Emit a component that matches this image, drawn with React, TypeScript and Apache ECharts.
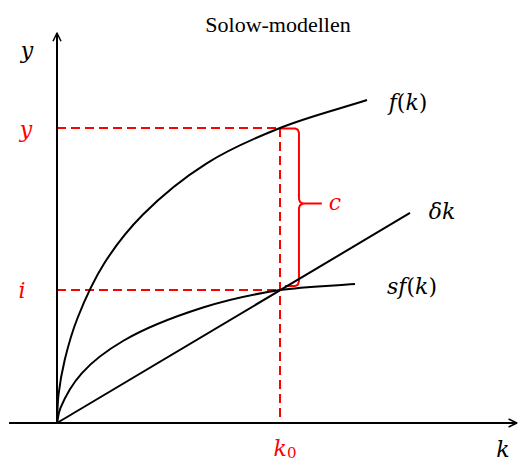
import React, { useEffect, useRef } from "react";
import * as echarts from "echarts";

// capital per worker k (k0 = 10) and output units
const K0 = 10;
const Y_STAR = 13.23; // f(k0)
const I_STAR = 5.96; // s f(k0)

const fData: number[][] = [
  [0, 0], [0.067, 1.256], [0.345, 2.825], [0.922, 4.709], [2.121, 7.161],
  [3.857, 9.35], [6.713, 11.646], [10, 13.23], [13.901, 14.484],
];
const sfData: number[][] = [
  [0, 0], [0.157, 0.673], [1.108, 2.229], [2.996, 3.7], [6.547, 5.179],
  [10, 5.96], [13.363, 6.233],
];
const deltaKData: number[][] = [[0, 0], [15.83, 9.42]];

const X_AXIS_LINE: number[][] = [[-2.15, 0], [20.62, 0]];
const Y_AXIS_LINE: number[][] = [[0, 0], [0, 17.49]];

const TITLE = "Solow-modellen";

// centripetal Catmull-Rom through pixel points -> SVG path data
function smoothPath(pts: number[][]): string {
  const n = pts.length;
  const P = (i: number): number[] => {
    if (i < 0) return [2 * pts[0][0] - pts[1][0], 2 * pts[0][1] - pts[1][1]];
    if (i >= n) return [2 * pts[n - 1][0] - pts[n - 2][0], 2 * pts[n - 1][1] - pts[n - 2][1]];
    return pts[i];
  };
  const dist = (a: number[], b: number[]) => Math.max(1e-6, Math.hypot(a[0] - b[0], a[1] - b[1]));
  let d = `M${pts[0][0]},${pts[0][1]}`;
  for (let i = 0; i < n - 1; i++) {
    const p0 = P(i - 1), p1 = P(i), p2 = P(i + 1), p3 = P(i + 2);
    const d1 = dist(p0, p1), d2 = dist(p1, p2), d3 = dist(p2, p3);
    const a1 = Math.sqrt(d1), a2 = Math.sqrt(d2), a3 = Math.sqrt(d3);
    const b1: number[] = [0, 1].map((k) =>
      (d1 * p2[k] - d2 * p0[k] + (2 * d1 + 3 * a1 * a2 + d2) * p1[k]) / (3 * a1 * (a1 + a2)));
    const b2: number[] = [0, 1].map((k) =>
      (d3 * p1[k] - d2 * p3[k] + (2 * d3 + 3 * a3 * a2 + d2) * p2[k]) / (3 * a3 * (a3 + a2)));
    d += ` C${b1[0]},${b1[1]} ${b2[0]},${b2[1]} ${p2[0]},${p2[1]}`;
  }
  return d;
}

export default function App() {
  const ref = useRef<HTMLDivElement>(null);
  useEffect(() => {
    if (!ref.current) return;
    const chart = echarts.init(ref.current, undefined, { renderer: "svg" });

    const black = "#000000";
    const red = "#ff0000";
    const xEnd = X_AXIS_LINE[1][0];
    const yEnd = Y_AXIS_LINE[1][1];
    const aw = 0.37; // arrow wing length (units)
    const ah = 0.18;

    const brace: number[][] = [
      [K0, Y_STAR - 0.02],
      [K0 + 0.67, Y_STAR - 0.02],
      [K0 + 0.8, Y_STAR - 0.08],
      [K0 + 0.85, Y_STAR - 0.22],
      [K0 + 0.85, 10.04],
      [K0 + 0.9, 9.91],
      [K0 + 1.03, 9.84],
      [K0 + 1.84, 9.84],
      [K0 + 1.03, 9.84],
      [K0 + 0.9, 9.77],
      [K0 + 0.85, 9.64],
      [K0 + 0.85, I_STAR + 0.4],
      [K0 + 0.8, I_STAR + 0.24],
      [K0 + 0.67, I_STAR + 0.18],
      [K0 + 0.22, I_STAR + 0.18],
    ];

    const line = (data: number[][], color: string, width: number, dashed = false) => ({
      type: "line",
      data,
      showSymbol: false,
      symbol: "none",
      silent: true,
      z: dashed ? 1 : 2,
      lineStyle: { color, width, type: dashed ? [9, 5] : "solid", cap: "butt", join: "round" },
    });

    const curve = (data: number[][], color: string, width: number) => ({
      type: "custom",
      silent: true,
      z: 3,
      data,
      renderItem: (params: any, api: any) => {
        if (params.dataIndex !== 0) return { type: "group", children: [] };
        const px = data.map((p) => api.coord(p));
        return {
          type: "path",
          shape: { pathData: smoothPath(px) },
          style: { stroke: color, lineWidth: width, fill: "none" },
        };
      },
    });

    const serif = "'DejaVu Serif', serif";
    const mathRich = (size: number, color: string) => ({
      i: { fontStyle: "italic", fontFamily: serif, fontSize: size, fill: color, color },
      n: { fontStyle: "normal", fontFamily: serif, fontSize: size, fill: color, color },
      s: {
        fontStyle: "normal", fontFamily: serif, fontSize: Math.round(size * 0.68), fill: color, color,
        verticalAlign: "bottom", padding: [9, 0, 0, 0],
      },
    });
    const txt = (x: number, y: number, text: string, color: string, size = 22) => ({
      type: "text",
      x,
      y,
      silent: true,
      style: {
        text,
        rich: mathRich(size, color),
        fill: color,
        align: "center",
        verticalAlign: "middle",
        font: `italic ${size}px ${serif}`,
      },
    });

    chart.setOption({
      animation: false,
      grid: { left: 0, right: 0, top: 0, bottom: 0 },
      xAxis: { type: "value", min: -2.556, max: 20.717, show: false },
      yAxis: { type: "value", min: -1.704, max: 18.969, show: false },
      series: [
        line(X_AXIS_LINE, black, 2),
        line(Y_AXIS_LINE, black, 2),
        line([[xEnd - aw, ah], [xEnd, 0], [xEnd - aw, -ah]], black, 1.5),
        line([[-ah, yEnd - aw], [0, yEnd], [ah, yEnd - aw]], black, 1.5),
        line([[0, Y_STAR], [K0, Y_STAR]], red, 2, true),
        line([[0, I_STAR], [K0, I_STAR]], red, 2, true),
        line([[K0, Y_STAR], [K0, 0]], red, 2, true),
        line(brace, red, 2),
        curve(fData, black, 2),
        curve(sfData, black, 2),
        line(deltaKData, black, 2),
      ],
      graphic: [
        {
          type: "text",
          x: 278,
          y: 24,
          silent: true,
          style: {
            text: TITLE,
            font: "22px 'Liberation Serif', 'Times New Roman', serif",
            fill: black,
            align: "center",
            verticalAlign: "middle",
          },
        },
        txt(27, 50, "{i|y}", black),
        txt(26, 129, "{i|y}", red),
        txt(22, 290, "{i|i}", red),
        txt(335, 202, "{i|c}", red),
        txt(408, 102, "{i|f}{n|(}{i|k}{n|)}", black),
        txt(442, 211, "{i|δk}", black),
        txt(412, 286, "{i|sf}{n|(}{i|k}{n|)}", black),
        txt(285, 448, "{i|k}{s|0}", red),
        txt(503, 449, "{i|k}", black),
      ],
    });
    return () => chart.dispose();
  }, []);
  return (
    <div
      ref={ref}
      style={{ position: "fixed", left: 0, top: 0, width: 519, height: 461, background: "#ffffff" }}
    />
  );
}
